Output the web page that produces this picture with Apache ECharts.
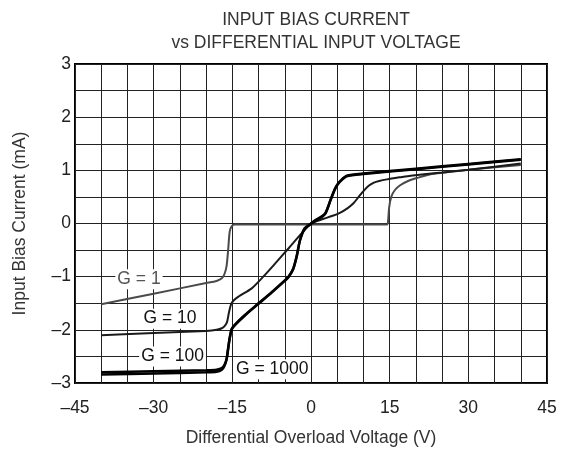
<!DOCTYPE html>
<html>
<head>
<meta charset="utf-8">
<script src="https://cdn.jsdelivr.net/npm/echarts@6/dist/echarts.min.js"></script>
<style>
  html, body { margin: 0; padding: 0; background: #fff; }
  #chart { width: 574px; height: 449px; }
</style>
</head>
<body>
<div id="chart"></div>
<script>
// 曲线数据 (x = 差分电压 V, y = 偏置电流 mA)
var g1X = [-40, -30, -20, -18, -17, -16.5, -16.1, -15.8, -15.5, -15.1, -14.5, -13, 0, 10, 14.5, 14.7, 14.9, 15.3, 16, 17, 18.5, 20, 23, 30, 40];
var g1Y = [-1.52, -1.32, -1.12, -1.08, -1.03, -0.95, -0.8, -0.5, -0.15, -0.05, -0.02, -0.02, -0.02, -0.02, -0.02, 0.05, 0.3, 0.5, 0.63, 0.72, 0.8, 0.85, 0.93, 1.01, 1.10];

var g10X = [-40, -30, -20, -18, -17, -16.4, -16, -15.6, -15.1, -13.9, -11.3, -9.1, -6.9, -4.3, -2.1, -0.5, 0, 1, 2.4, 4, 5.5, 7, 8.1, 9, 10, 11, 12, 13, 14.5, 17, 19, 25, 30, 40];
var g10Y = [-2.10, -2.06, -2.02, -2.0, -1.97, -1.92, -1.85, -1.65, -1.49, -1.38, -1.22, -1.0, -0.76, -0.47, -0.22, -0.05, 0, 0.04, 0.09, 0.14, 0.2, 0.29, 0.38, 0.49, 0.61, 0.71, 0.77, 0.80, 0.83, 0.87, 0.9, 0.96, 1.01, 1.13];

var g100X = [-40, -30, -20, -18, -17, -16.5, -16.1, -15.8, -15.5, -15.1, -14.5, -12.6, -10, -7.5, -5, -4.3, -3.4, -2.7, -2.1, -1.2, 0, 0.8, 2.0, 2.7, 3.2, 3.7, 4.6, 5.3, 6, 6.8, 10, 20, 30, 40];
var g100Y = [-2.80, -2.78, -2.76, -2.75, -2.72, -2.66, -2.55, -2.35, -2.15, -1.98, -1.9, -1.72, -1.5, -1.29, -1.07, -1.0, -0.85, -0.6, -0.31, -0.09, 0, 0.06, 0.13, 0.19, 0.3, 0.44, 0.66, 0.77, 0.84, 0.9, 0.94, 1.03, 1.12, 1.21];

var g1000X = [-40, -30, -20, -18, -17, -16.5, -16.1, -15.8, -15.5, -15.1, -14.5, -12.6, -10, -7.5, -5, -4.3, -3.4, -2.7, -2.1, -1.2, 0, 0.8, 2.0, 2.7, 3.2, 3.7, 4.6, 5.3, 6, 6.8, 10, 20, 30, 40];
var g1000Y = [-2.84, -2.82, -2.80, -2.79, -2.75, -2.68, -2.56, -2.36, -2.16, -1.99, -1.91, -1.73, -1.51, -1.30, -1.08, -1.01, -0.86, -0.61, -0.32, -0.10, -0.01, 0.05, 0.12, 0.18, 0.29, 0.43, 0.65, 0.76, 0.83, 0.89, 0.93, 1.02, 1.11, 1.20];

// 曲线标注 [x, y]
var labelNames = ['G = 1', 'G = 10', 'G = 100', 'G = 1000'];
var labelPos = [[-32.8, -1.05], [-26.9, -1.79], [-26.4, -2.5], [-7.4, -2.74]];

var xTicks = [-45, -30, -15, 0, 15, 30, 45];

function pairs(xs, ys) {
  return xs.map(function (x, i) { return [x, ys[i]]; });
}
function dash(v) {
  return String(v).replace('-', '\u2013');
}

(function () {
  var myChart = echarts.init(document.getElementById('chart'));
  var fontFamily = '"Liberation Sans", Arial, sans-serif';
  var fs = 17.5;

  function makeSeries(name, data, color, width, idx, textColor) {
    return {
      name: name,
      type: 'line',
      data: data,
      smooth: 0.25,
      showSymbol: false,
      lineStyle: { color: color, width: width },
      markPoint: {
        symbol: 'circle',
        symbolSize: 1,
        itemStyle: { color: 'rgba(0,0,0,0)' },
        label: {
          show: true,
          position: 'inside',
          formatter: labelNames[idx],
          color: textColor,
          fontSize: fs,
          fontFamily: fontFamily,
          backgroundColor: '#fff',
          padding: [1, 2]
        },
        data: [{ coord: labelPos[idx] }]
      }
    };
  }

  var option = {
    backgroundColor: '#fff',
    animation: false,
    title: {
      text: 'INPUT BIAS CURRENT\nvs DIFFERENTIAL INPUT VOLTAGE',
      left: 311,
      textAlign: 'center',
      top: 4,
      textStyle: {
        color: '#333',
        fontWeight: 'normal',
        fontSize: fs,
        lineHeight: 23,
        fontFamily: fontFamily
      }
    },
    grid: {
      left: 75,
      right: 27,
      top: 64,
      bottom: 66,
      outerBoundsMode: 'none',
      show: true,
      borderColor: '#000',
      borderWidth: 2
    },
    xAxis: {
      type: 'value',
      min: -45,
      max: 45,
      interval: 5,
      name: 'Differential Overload Voltage (V)',
      nameLocation: 'middle',
      nameGap: 46,
      nameTextStyle: { color: '#333', fontSize: fs, fontFamily: fontFamily },
      axisLine: { show: false },
      axisTick: { show: false },
      axisLabel: {
        color: '#222',
        fontSize: fs,
        fontFamily: fontFamily,
        margin: 16,
        formatter: function (v) {
          return xTicks.indexOf(v) >= 0 ? dash(v) : '';
        }
      },
      splitLine: { lineStyle: { color: '#222', width: 1 } }
    },
    yAxis: {
      type: 'value',
      min: -3,
      max: 3,
      interval: 0.5,
      name: 'Input Bias Current (mA)',
      nameLocation: 'middle',
      nameGap: 46,
      nameTextStyle: { color: '#333', fontSize: fs, fontFamily: fontFamily },
      axisLine: { show: false },
      axisTick: { show: false },
      axisLabel: {
        color: '#222',
        fontSize: fs,
        fontFamily: fontFamily,
        margin: 4,
        formatter: function (v) {
          return Math.round(v) === v ? dash(v) : '';
        }
      },
      splitLine: { lineStyle: { color: '#222', width: 1 } }
    },
    series: [
      makeSeries('G = 1', pairs(g1X, g1Y), '#4a4a4a', 2, 0, '#555'),
      makeSeries('G = 10', pairs(g10X, g10Y), '#1a1a1a', 2, 1, '#111'),
      makeSeries('G = 100', pairs(g100X, g100Y), '#000', 2.5, 2, '#111'),
      makeSeries('G = 1000', pairs(g1000X, g1000Y), '#000', 2.5, 3, '#111')
    ]
  };

  myChart.setOption(option);
  window.addEventListener('resize', function () {
    myChart.resize();
  });
})();
</script>
</body>
</html>
